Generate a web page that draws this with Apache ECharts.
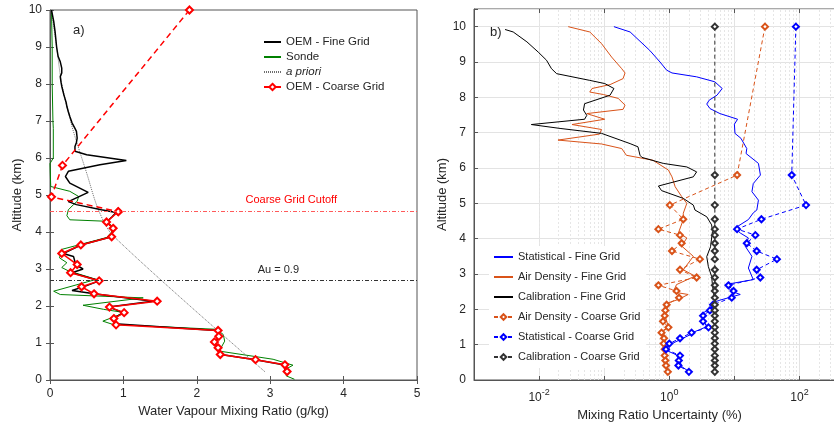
<!DOCTYPE html>
<html>
<head>
<meta charset="utf-8">
<script src="https://cdn.jsdelivr.net/npm/echarts@6/dist/echarts.min.js"></script>
<style>
html, body { margin: 0; padding: 0; background: #fff; }
#chart { width: 834px; height: 426px; }
</style>
</head>
<body>
<div id="chart"></div>
<script>
// ---- panel a) water vapour mixing ratio (g/kg) vs altitude (km)
var fineAlt = [10.0, 9.7, 9.4, 9.0, 8.75, 8.6, 8.43, 8.3, 8.2, 8.05, 7.94, 7.7, 7.5, 7.39, 7.25, 7.12, 6.95, 6.8, 6.72, 6.54, 6.42, 6.31, 6.18, 6.09, 5.93, 5.82, 5.64, 5.5, 5.32, 5.07, 4.82, 4.74, 4.6, 4.53, 4.42, 4.27, 4.10, 3.87, 3.65, 3.42, 3.34, 3.12, 3.0, 2.9, 2.68, 2.55, 2.42, 2.33, 2.13, 1.97, 1.82, 1.66, 1.52, 1.34, 1.18, 1.03, 0.87, 0.69, 0.55, 0.41, 0.23];
var fineWv = [0.02, 0.05, 0.07, 0.09, 0.11, 0.14, 0.16, 0.16, 0.14, 0.15, 0.16, 0.19, 0.22, 0.23, 0.25, 0.27, 0.30, 0.34, 0.36, 0.37, 0.36, 0.34, 0.34, 0.50, 1.04, 0.68, 0.25, 0.21, 0.27, 0.52, 0.25, 0.36, 0.70, 0.90, 0.85, 0.77, 0.86, 0.84, 0.42, 0.18, 0.32, 0.35, 0.45, 0.30, 0.67, 0.50, 0.30, 0.60, 1.40, 0.80, 1.00, 0.86, 0.88, 2.27, 2.32, 2.25, 2.27, 2.33, 2.80, 3.18, 3.21];

var sondeAlt = [10.0, 9.0, 8.0, 7.0, 6.8, 6.0, 5.85, 5.23, 5.1, 4.96, 4.83, 4.74, 4.6, 4.44, 4.33, 4.29, 4.15, 4.0, 3.85, 3.53, 3.3, 3.17, 3.04, 2.95, 2.72, 2.4, 2.31, 2.22, 2.02, 1.91, 1.82, 1.59, 1.50, 1.37, 1.23, 1.05, 0.87, 0.78, 0.56, 0.40, 0.29, 0.11, 0.02];
var sondeWv = [0.02, 0.03, 0.03, 0.04, 0.045, 0.045, 0.0, 0.01, 0.27, 0.39, 0.37, 0.32, 0.25, 0.23, 0.27, 0.77, 0.85, 0.84, 0.77, 0.16, 0.13, 0.23, 0.16, 0.25, 0.63, 0.05, 0.14, 1.27, 0.45, 0.73, 1.02, 0.72, 0.86, 2.27, 2.36, 2.38, 2.33, 2.31, 3.04, 3.31, 3.21, 3.22, 3.33];

var aprioriAlt = [10.0, 9.0, 8.0, 7.0, 6.58, 5.59, 4.6, 3.9, 0.22];
var aprioriWv = [0.02, 0.09, 0.16, 0.28, 0.34, 0.50, 0.66, 0.86, 2.93];

// coarse retrieval grid (shared by both panels)
var coarseAlt = [10.0, 5.8, 4.95, 4.55, 4.27, 4.10, 3.87, 3.65, 3.42, 3.12, 2.90, 2.68, 2.52, 2.33, 2.13, 1.97, 1.82, 1.66, 1.49, 1.34, 1.18, 1.03, 0.87, 0.69, 0.55, 0.41, 0.23];
var coarseWv = [1.90, 0.17, 0.02, 0.93, 0.77, 0.86, 0.84, 0.42, 0.16, 0.37, 0.28, 0.67, 0.43, 0.60, 1.46, 0.81, 1.01, 0.87, 0.90, 2.29, 2.30, 2.24, 2.29, 2.32, 2.80, 3.20, 3.23];
var cutoffAlt = 4.55;  // Coarse Grid Cutoff
var auAlt = 2.70;      // Au = 0.9

// ---- panel b) uncertainties (%)
var statAlt = [10.0, 9.85, 9.33, 9.0, 8.77, 8.69, 8.58, 8.44, 8.25, 8.06, 7.92, 7.81, 7.68, 7.54, 7.38, 7.24, 6.98, 6.84, 6.55, 6.41, 6.32, 6.13, 5.80, 5.56, 5.33, 5.09, 4.81, 4.73, 4.54, 4.30, 4.16, 4.02, 3.79, 3.50, 3.17, 2.84, 2.70, 2.51, 2.42, 2.26, 2.18, 2.03, 1.90, 1.75, 1.51, 1.37, 1.28, 1.14, 1.00, 0.86, 0.71, 0.53, 0.38, 0.23];
var statFine = [0.141, 0.25, 0.50, 0.72, 0.91, 1.10, 2.63, 5.0, 6.5, 5.4, 4.1, 3.76, 4.23, 6.0, 11.2, 10.0, 10.2, 12.6, 15.5, 15.1, 17.4, 23.4, 25.1, 19.5, 18.6, 23.4, 22.1, 19.5, 16.4, 10.2, 12.3, 16.4, 14.6, 18.6, 16.4, 19.5, 7.2, 9.1, 12.3, 6.0, 4.5, 4.5, 3.3, 3.2, 3.76, 2.48, 2.09, 1.46, 1.02, 0.85, 1.29, 1.46, 1.55, 2.04];

var airAlt = [10.0, 9.85, 9.52, 9.14, 8.81, 8.69, 8.53, 8.36, 8.25, 8.15, 8.08, 7.97, 7.78, 7.66, 7.54, 7.38, 7.23, 7.09, 6.96, 6.79, 6.68, 6.55, 6.36, 6.22, 5.94, 5.75, 5.47, 5.19, 5.00, 4.72, 4.54, 4.16, 4.02, 3.79, 3.50, 3.12, 2.94, 2.70, 2.49, 2.42, 2.28, 2.17, 1.84, 1.51, 1.37, 1.00, 0.53, 0.23];
var airFine = [0.028, 0.060, 0.091, 0.130, 0.186, 0.209, 0.195, 0.123, 0.065, 0.060, 0.097, 0.164, 0.209, 0.195, 0.054, 0.102, 0.032, 0.091, 0.085, 0.0195, 0.091, 0.186, 0.219, 0.56, 0.97, 1.10, 1.23, 1.55, 1.86, 1.64, 1.64, 1.38, 1.86, 1.55, 2.34, 1.64, 2.48, 1.29, 1.15, 1.95, 1.38, 0.91, 0.85, 0.97, 0.76, 0.85, 0.89, 0.97];

var calAlt = [9.92, 9.85, 9.57, 9.28, 9.05, 8.81, 8.67, 8.48, 8.39, 8.25, 8.06, 7.82, 7.64, 7.49, 7.38, 7.23, 7.12, 6.98, 6.69, 6.60, 6.36, 6.30, 6.13, 6.03, 5.89, 5.75, 5.49, 5.36, 5.14, 4.95, 4.81, 4.62, 4.39, 4.20, 3.77, 3.49, 3.21, 2.93, 2.69, 2.20, 0.20];
var calFine = [0.0030, 0.0040, 0.0065, 0.0097, 0.013, 0.0155, 0.0186, 0.060, 0.102, 0.141, 0.123, 0.050, 0.048, 0.054, 0.050, 0.0076, 0.021, 0.091, 0.25, 0.33, 0.355, 0.38, 0.81, 1.86, 2.63, 2.34, 0.68, 0.76, 1.64, 2.34, 2.48, 3.76, 4.47, 4.6, 4.3, 3.76, 3.98, 4.47, 4.6, 5.0, 5.0];

var airCoarse = [29.5, 11.0, 1.02, 1.64, 0.68, 1.46, 1.55, 1.10, 2.95, 1.46, 2.63, 0.68, 1.29, 1.41, 0.91, 0.87, 0.85, 0.80, 0.97, 0.76, 0.83, 0.82, 0.85, 0.85, 0.87, 0.89, 0.95];
var statCoarse = [88, 76, 126, 26, 11, 21, 15.5, 22, 45, 22, 25, 8.1, 9.7, 9.1, 4.7, 4.2, 3.3, 3.3, 4.0, 2.2, 1.46, 1.0, 0.89, 1.46, 1.4, 1.38, 2.0];
var calCoarse = [5.0, 5.0, 5.0, 5.0, 5.0, 5.0, 5.0, 5.0, 5.0, 5.0, 5.0, 5.0, 5.0, 5.0, 5.0, 5.0, 5.0, 5.0, 5.0, 5.0, 5.0, 5.0, 5.0, 5.0, 5.0, 5.0, 5.0];

function pairs(xs, ys) {
	var out = [];
	for (var i = 0; i < xs.length; i++) out.push([xs[i], ys[i]]);
	return out;
}

// coarse profile: dashed above the cutoff, solid below
var coarseUpper = [], coarseLower = [];
for (var i = 0; i < coarseAlt.length; i++) {
	if (coarseAlt[i] >= cutoffAlt) coarseUpper.push([coarseWv[i], coarseAlt[i]]);
	if (coarseAlt[i] <= cutoffAlt) coarseLower.push([coarseWv[i], coarseAlt[i]]);
}

// minor log grid lines 2..9 x 10^k
var minorGrid = [];
for (var k = -3; k <= 2; k++) {
	for (var m = 2; m <= 9; m++) {
		if (m * Math.pow(10, k) < 500) minorGrid.push({ xAxis: m * Math.pow(10, k) });
	}
}

var txt = '#262626';
var axisCol = '#555';
var font = 'Liberation Sans';
var noMark = { opacity: 0 };  // legend: line only

function logLabel(v) {
	var e = Math.log10(v);
	var r = Math.round(e);
	if (Math.abs(e - r) > 0.01 || r % 2 !== 0) return '';
	return '{b|10}{s|' + r + '}';
}

var chart = echarts.init(document.getElementById('chart'));
chart.setOption({
	animation: false,
	textStyle: { fontFamily: font },
	grid: [
		{ left: 50, top: 10, width: 367, bottom: 46, show: true, borderColor: axisCol, borderWidth: 1, backgroundColor: '#fff', outerBoundsMode: 'none' },
		{ left: 474, top: 9, width: 371, bottom: 46, show: true, borderColor: axisCol, borderWidth: 1, backgroundColor: '#fff', outerBoundsMode: 'none' }
	],
	xAxis: [{
		gridIndex: 0, type: 'value', min: 0, max: 5, interval: 1,
		name: 'Water Vapour Mixing Ratio (g/kg)', nameLocation: 'middle', nameGap: 24,
		nameTextStyle: { fontSize: 13, color: txt },
		axisLine: { lineStyle: { color: axisCol } },
		axisTick: { inside: true, length: 4, lineStyle: { color: axisCol } },
		axisLabel: { fontSize: 12, color: txt, margin: 8 },
		splitLine: { show: false }
	}, {
		gridIndex: 0, type: 'value', position: 'top', min: 0, max: 5, interval: 1,
		axisLine: { show: false },
		axisTick: { inside: true, length: 4, lineStyle: { color: axisCol } },
		axisLabel: { show: false }, splitLine: { show: false }
	}, {
		gridIndex: 1, type: 'log', logBase: 10, min: 0.001, max: 500,
		name: 'Mixing Ratio Uncertainty (%)', nameLocation: 'middle', nameGap: 27,
		nameTextStyle: { fontSize: 13, color: txt },
		axisLine: { lineStyle: { color: axisCol } },
		axisTick: { inside: true, length: 4, lineStyle: { color: axisCol } },
		axisLabel: {
			color: txt, margin: 8, formatter: logLabel,
			rich: {
				b: { fontSize: 12, color: txt, verticalAlign: 'bottom' },
				s: { fontSize: 9, color: txt, verticalAlign: 'bottom', padding: [0, 0, 7, 0] }
			}
		},
		splitLine: { show: true, lineStyle: { color: '#e3e3e3', width: 1 } }
	}, {
		gridIndex: 1, type: 'log', logBase: 10, position: 'top', min: 0.001, max: 500,
		axisLine: { show: false },
		axisTick: { inside: true, length: 4, lineStyle: { color: axisCol } },
		axisLabel: { show: false }, splitLine: { show: false }
	}],
	yAxis: [{
		gridIndex: 0, type: 'value', min: 0, max: 10, interval: 1,
		name: 'Altitude (km)', nameLocation: 'middle', nameGap: 26,
		nameTextStyle: { fontSize: 13, color: txt },
		axisLine: { show: true, lineStyle: { color: axisCol } },
		axisTick: { show: true, inside: true, length: 4, lineStyle: { color: axisCol } },
		axisLabel: { fontSize: 12, color: txt, margin: 8 },
		splitLine: { show: false }
	}, {
		gridIndex: 0, type: 'value', position: 'right', min: 0, max: 10, interval: 1,
		axisLine: { show: false },
		axisTick: { show: true, inside: true, length: 4, lineStyle: { color: axisCol } },
		axisLabel: { show: false }, splitLine: { show: false }
	}, {
		gridIndex: 1, type: 'value', min: 0, max: 10.5, interval: 1,
		name: 'Altitude (km)', nameLocation: 'middle', nameGap: 22,
		nameTextStyle: { fontSize: 13, color: txt },
		axisLine: { show: true, lineStyle: { color: axisCol } },
		axisTick: { show: true, inside: true, length: 4, lineStyle: { color: axisCol } },
		axisLabel: {
			fontSize: 12, color: txt, margin: 8,
			formatter: function (v) { return v % 1 === 0 ? String(v) : ''; }
		},
		splitLine: { show: true, lineStyle: { color: '#e3e3e3', width: 1 } }
	}],
	legend: [{
		left: 263, top: 35, orient: 'vertical', padding: 0, z: 20,
		itemWidth: 17, itemHeight: 8, itemGap: 1, itemTextGap: 3,
		textStyle: { fontSize: 11.5, color: txt, lineHeight: 14 },
		data: [
			{ name: 'OEM - Fine Grid', itemStyle: noMark },
			{ name: 'Sonde', itemStyle: noMark },
			{ name: 'a priori', itemStyle: noMark, textStyle: { fontStyle: 'italic' } },
			{ name: 'OEM - Coarse Grid' }
		]
	}, {
		left: 489, top: 246, orient: 'vertical', padding: [4, 6, 4, 4], z: 20,
		backgroundColor: '#fff',
		itemWidth: 19, itemHeight: 7, itemGap: 6, itemTextGap: 2,
		textStyle: { fontSize: 11, color: txt, lineHeight: 14 },
		data: [
			{ name: 'Statistical - Fine Grid', itemStyle: noMark },
			{ name: 'Air Density - Fine Grid', itemStyle: noMark },
			{ name: 'Calibration - Fine Grid', itemStyle: noMark },
			{ name: 'Air Density - Coarse Grid' },
			{ name: 'Statistical - Coarse Grid' },
			{ name: 'Calibration - Coarse Grid' }
		]
	}],
	graphic: [
		{ type: 'text', left: 73, top: 24, style: { text: 'a)', fontSize: 13, fill: txt, fontFamily: font } },
		{ type: 'text', left: 490, top: 26, style: { text: 'b)', fontSize: 13, fill: txt, fontFamily: font } }
	],
	series: [
		// ---- panel a)
		{
			name: 'Sonde', type: 'line', xAxisIndex: 0, yAxisIndex: 0,
			data: pairs(sondeWv, sondeAlt), symbol: 'none',
			lineStyle: { color: '#008000', width: 1 }, itemStyle: { color: '#008000' }
		},
		{
			name: 'a priori', type: 'line', xAxisIndex: 0, yAxisIndex: 0,
			data: pairs(aprioriWv, aprioriAlt), symbol: 'none', smooth: 0.3,
			lineStyle: { color: '#6e6e6e', width: 1, type: [1, 1] }, itemStyle: { color: '#6e6e6e' }
		},
		{
			name: 'OEM - Fine Grid', type: 'line', xAxisIndex: 0, yAxisIndex: 0,
			data: pairs(fineWv, fineAlt), symbol: 'none',
			lineStyle: { color: '#000', width: 1.5 }, itemStyle: { color: '#000' },
			markLine: {
				silent: true, symbol: ['none', 'none'],
				data: [{
					yAxis: cutoffAlt,
					lineStyle: { color: '#ff5a5a', width: 1, type: [4, 2, 1, 2] },
					label: { show: true, position: 'insideEndTop', formatter: 'Coarse Grid Cutoff', color: '#ff0000', fontSize: 11, distance: 6, padding: [0, 74, 0, 0] }
				}, {
					yAxis: auAlt,
					lineStyle: { color: '#333', width: 1, type: [4, 2, 1, 2] },
					label: { show: true, position: 'insideEndTop', formatter: 'Au = 0.9', color: txt, fontSize: 11, distance: 5, padding: [0, 113, 0, 0] }
				}]
			}
		},
		{
			name: 'OEM - Coarse Grid upper', type: 'line', xAxisIndex: 0, yAxisIndex: 0,
			data: coarseUpper, symbol: 'emptyDiamond', symbolSize: 7,
			lineStyle: { color: '#ff0000', width: 1.5, type: [6, 4] }, itemStyle: { color: '#ff0000', borderWidth: 1 }
		},
		{
			name: 'OEM - Coarse Grid', type: 'line', xAxisIndex: 0, yAxisIndex: 0,
			data: coarseLower, symbol: 'emptyDiamond', symbolSize: 7,
			lineStyle: { color: '#ff0000', width: 1.5 }, itemStyle: { color: '#ff0000', borderWidth: 1 }
		},
		// ---- panel b)
		{
			name: 'minor grid', type: 'line', xAxisIndex: 2, yAxisIndex: 2, data: [], z: 0,
			markLine: {
				silent: true, symbol: ['none', 'none'], label: { show: false }, z: 0,
				lineStyle: { color: '#e6e6e6', width: 1, type: [2, 2] },
				data: minorGrid
			}
		},
		{
			name: 'Statistical - Fine Grid', type: 'line', xAxisIndex: 2, yAxisIndex: 2,
			data: pairs(statFine, statAlt), symbol: 'none',
			lineStyle: { color: '#0000ff', width: 1 }, itemStyle: { color: '#0000ff' }
		},
		{
			name: 'Air Density - Fine Grid', type: 'line', xAxisIndex: 2, yAxisIndex: 2,
			data: pairs(airFine, airAlt), symbol: 'none',
			lineStyle: { color: '#d95319', width: 1 }, itemStyle: { color: '#d95319' }
		},
		{
			name: 'Calibration - Fine Grid', type: 'line', xAxisIndex: 2, yAxisIndex: 2,
			data: pairs(calFine, calAlt), symbol: 'none',
			lineStyle: { color: '#000', width: 1 }, itemStyle: { color: '#000' }
		},
		{
			name: 'Air Density - Coarse Grid', type: 'line', xAxisIndex: 2, yAxisIndex: 2,
			data: pairs(airCoarse, coarseAlt), symbol: 'emptyDiamond', symbolSize: 6,
			lineStyle: { color: '#d95319', width: 1, type: [4, 3] }, itemStyle: { color: '#d95319', borderWidth: 1 }
		},
		{
			name: 'Statistical - Coarse Grid', type: 'line', xAxisIndex: 2, yAxisIndex: 2,
			data: pairs(statCoarse, coarseAlt), symbol: 'emptyDiamond', symbolSize: 6,
			lineStyle: { color: '#0000ff', width: 1, type: [4, 3] }, itemStyle: { color: '#0000ff', borderWidth: 1 }
		},
		{
			name: 'Calibration - Coarse Grid', type: 'line', xAxisIndex: 2, yAxisIndex: 2,
			data: pairs(calCoarse, coarseAlt), symbol: 'emptyDiamond', symbolSize: 6,
			lineStyle: { color: '#333', width: 1, type: [4, 3] }, itemStyle: { color: '#333', borderWidth: 1 }
		}
	]
});
</script>
</body>
</html>
